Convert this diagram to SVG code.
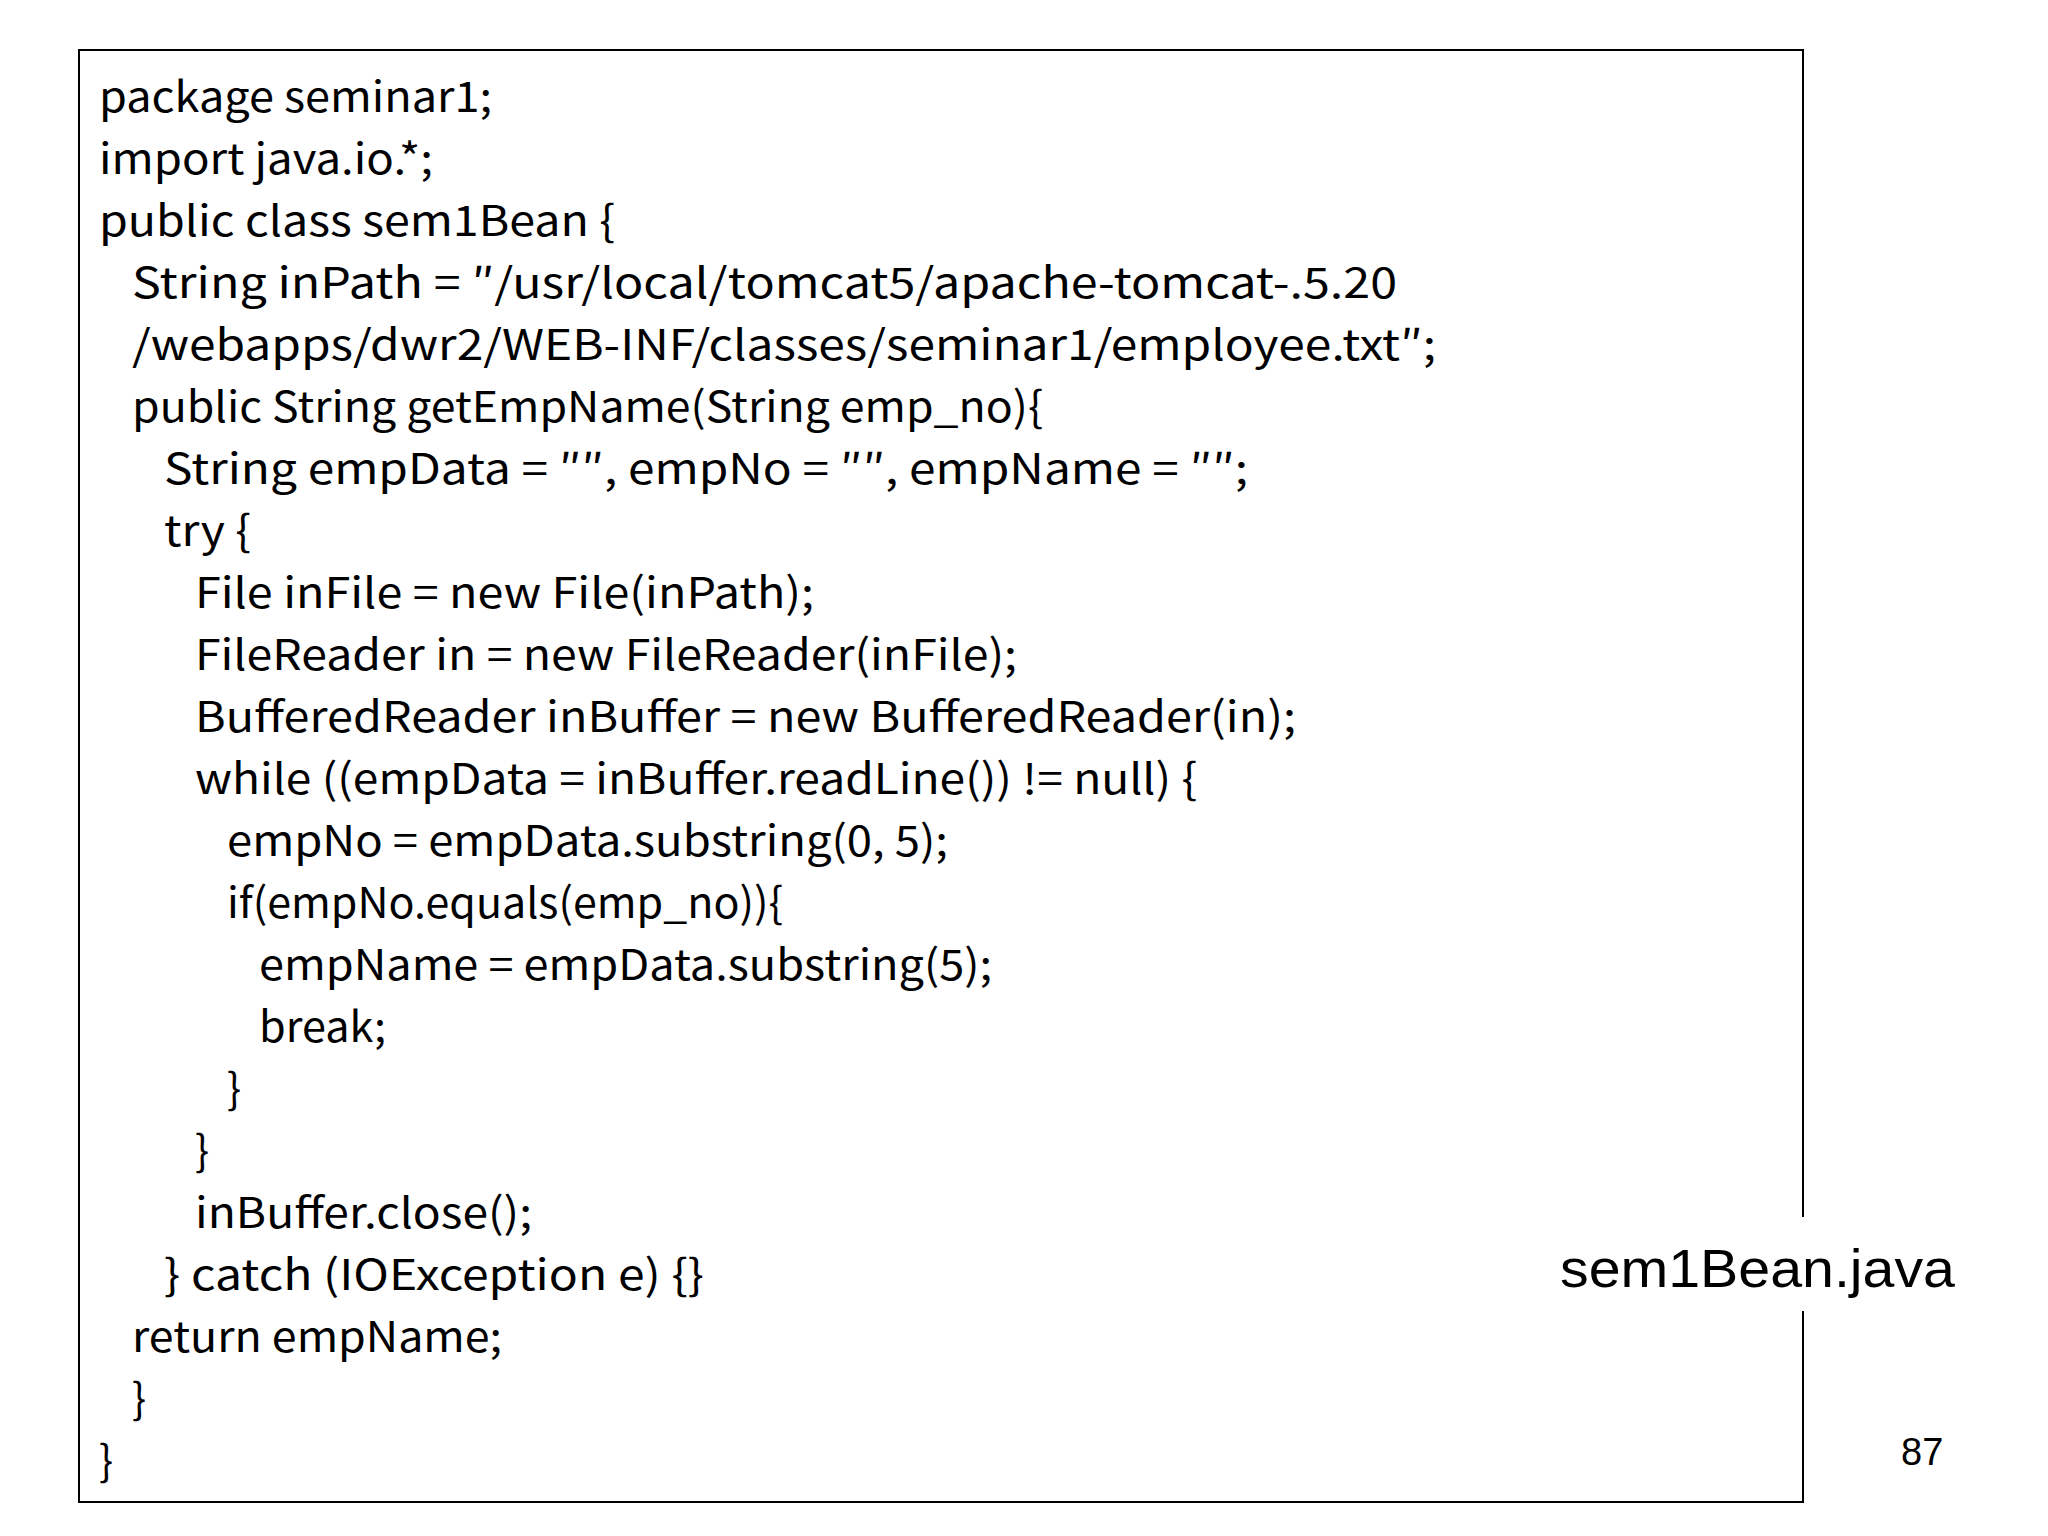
<svg xmlns="http://www.w3.org/2000/svg" width="2048" height="1536" viewBox="0 0 2048 1536">
<style>
.c{font-family:"Noto Sans CJK JP","Liberation Sans",sans-serif;font-size:42px;fill:#000}
</style>
<rect width="2048" height="1536" fill="#fff"/>
<g id="box">
<rect x="79" y="50" width="1724" height="1452" fill="none" stroke="#000" stroke-width="2"/>
<rect x="1795" y="1217" width="16" height="94" fill="#fff"/>
</g>
<g id="code" class="c" lengthAdjust="spacingAndGlyphs">
<text x="99" y="112" textLength="393" lengthAdjust="spacingAndGlyphs">package seminar1;</text>
<text x="99" y="174" textLength="334" lengthAdjust="spacingAndGlyphs">import java.io.*;</text>
<text x="99" y="236" textLength="516" lengthAdjust="spacingAndGlyphs">public class sem1Bean {</text>
<text x="132" y="298" textLength="1265" lengthAdjust="spacingAndGlyphs">String inPath = ″/usr/local/tomcat5/apache-tomcat-.5.20</text>
<text x="132" y="360" textLength="1304" lengthAdjust="spacingAndGlyphs">/webapps/dwr2/WEB-INF/classes/seminar1/employee.txt″;</text>
<text x="132" y="422" textLength="911" lengthAdjust="spacingAndGlyphs">public String getEmpName(String emp_no){</text>
<text x="164" y="484" textLength="1084" lengthAdjust="spacingAndGlyphs">String empData = ″″, empNo = ″″, empName = ″″;</text>
<text x="164" y="546" textLength="87" lengthAdjust="spacingAndGlyphs">try {</text>
<text x="195" y="608" textLength="619" lengthAdjust="spacingAndGlyphs">File inFile = new File(inPath);</text>
<text x="195" y="670" textLength="822" lengthAdjust="spacingAndGlyphs">FileReader in = new FileReader(inFile);</text>
<text x="195" y="732" textLength="1101" lengthAdjust="spacingAndGlyphs">BufferedReader inBuffer = new BufferedReader(in);</text>
<text x="195" y="794" textLength="1002" lengthAdjust="spacingAndGlyphs">while ((empData = inBuffer.readLine()) != null) {</text>
<text x="227" y="856" textLength="721" lengthAdjust="spacingAndGlyphs">empNo = empData.substring(0, 5);</text>
<text x="227" y="918" textLength="556" lengthAdjust="spacingAndGlyphs">if(empNo.equals(emp_no)){</text>
<text x="259" y="980" textLength="733" lengthAdjust="spacingAndGlyphs">empName = empData.substring(5);</text>
<text x="259" y="1042" textLength="127" lengthAdjust="spacingAndGlyphs">break;</text>
<text x="227" y="1104">}</text>
<text x="195" y="1166">}</text>
<text x="195" y="1228" textLength="337" lengthAdjust="spacingAndGlyphs">inBuffer.close();</text>
<text x="164" y="1290" textLength="540" lengthAdjust="spacingAndGlyphs">} catch (IOException e) {}</text>
<text x="132" y="1352" textLength="370" lengthAdjust="spacingAndGlyphs">return empName;</text>
<text x="132" y="1414">}</text>
<text x="99" y="1476">}</text>
</g>
<g id="label">
<text x="1560" y="1287" font-family="Liberation Sans, Arial, sans-serif" font-size="54" textLength="395" lengthAdjust="spacingAndGlyphs">sem1Bean.java</text>
</g>
<g id="page">
<text x="1901" y="1465" font-family="Liberation Sans, Arial, sans-serif" font-size="38">87</text>
</g>
</svg>
